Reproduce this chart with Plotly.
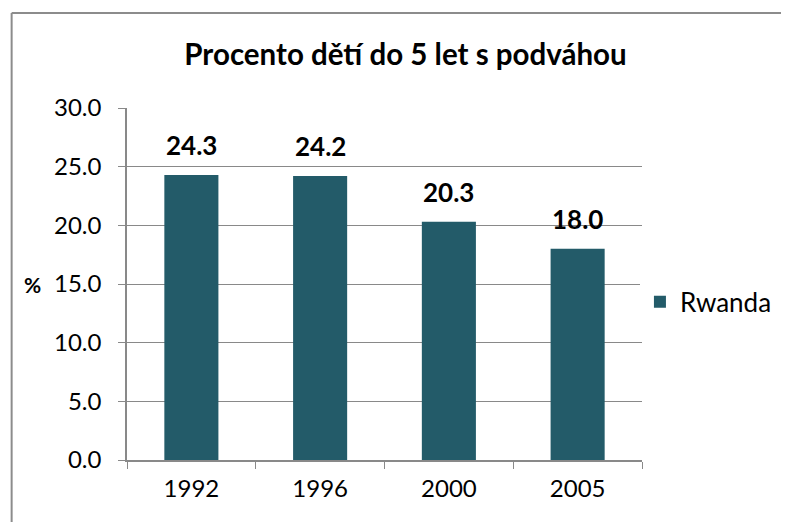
import plotly.graph_objs as go

years = ['1992', '1996', '2000', '2005']
values = [24.3, 24.2, 20.3, 18.0]
series_name = 'Rwanda'

FONT = 'Lato, Open Sans, sans-serif'
BAR = '#235b69'
GRID = '#898989'

bar = go.Bar(
    x=years,
    y=values,
    name=series_name,
    marker=dict(color=BAR, line=dict(width=0)),
    width=0.42,
    showlegend=True,
)

# value labels above bars (category axis annotations use the category index)
labels = [dict(x=i, y=v, text='<b>%.1f</b>' % v, showarrow=False,
               yanchor='bottom', yshift=12,
               font=dict(family=FONT, size=26, color='black'))
          for i, v in enumerate(values)]

labels.append(dict(x=-0.183, y=0.5, xref='paper', yref='paper',
                   xanchor='center', yanchor='middle',
                   text='<b>%</b>', showarrow=False,
                   font=dict(family=FONT, size=21, color='black')))

# page body has an 8px margin, so the figure is a bit smaller than the window
layout = go.Layout(
    width=781, height=514,
    paper_bgcolor='white', plot_bgcolor='white',
    margin=dict(l=119, r=144, t=100, b=62),
    title=dict(text='<b>Procento dětí do 5 let s podváhou</b>',
               x=0.509, xanchor='center', y=0.909, yanchor='middle',
               font=dict(family=FONT, size=29.5, color='black')),
    font=dict(family=FONT, size=24, color='black'),
    xaxis=dict(type='category', tickson='boundaries', ticks='outside',
               ticklen=7, tickcolor=GRID, showline=True, linecolor=GRID,
               linewidth=1.5, showgrid=False, ticklabelstandoff=6,
               tickfont=dict(family=FONT, size=24)),
    yaxis=dict(range=[0, 30], dtick=5, tickformat='.1f', ticks='outside',
               ticklen=7, tickcolor=GRID, showline=True, linecolor=GRID,
               linewidth=1.5, showgrid=True, gridcolor=GRID, gridwidth=1.2,
               zeroline=False, ticklabelstandoff=12,
               tickfont=dict(family=FONT, size=24)),
    legend=dict(x=0.996, y=0.449, xanchor='left', yanchor='middle',
                font=dict(family=FONT, size=26)),
    annotations=labels,
    shapes=[
        dict(type='line', xref='paper', yref='paper', x0=-0.224, x1=1.5,
             y0=1.27, y1=1.27, line=dict(color='#8c8c8c', width=2)),
        dict(type='line', xref='paper', yref='paper', x0=-0.224, x1=-0.224,
             y0=1.27, y1=-0.2, line=dict(color='#8c8c8c', width=2)),
    ],
)

fig = go.Figure(data=[bar], layout=layout)
fig.write_html('out.html')
